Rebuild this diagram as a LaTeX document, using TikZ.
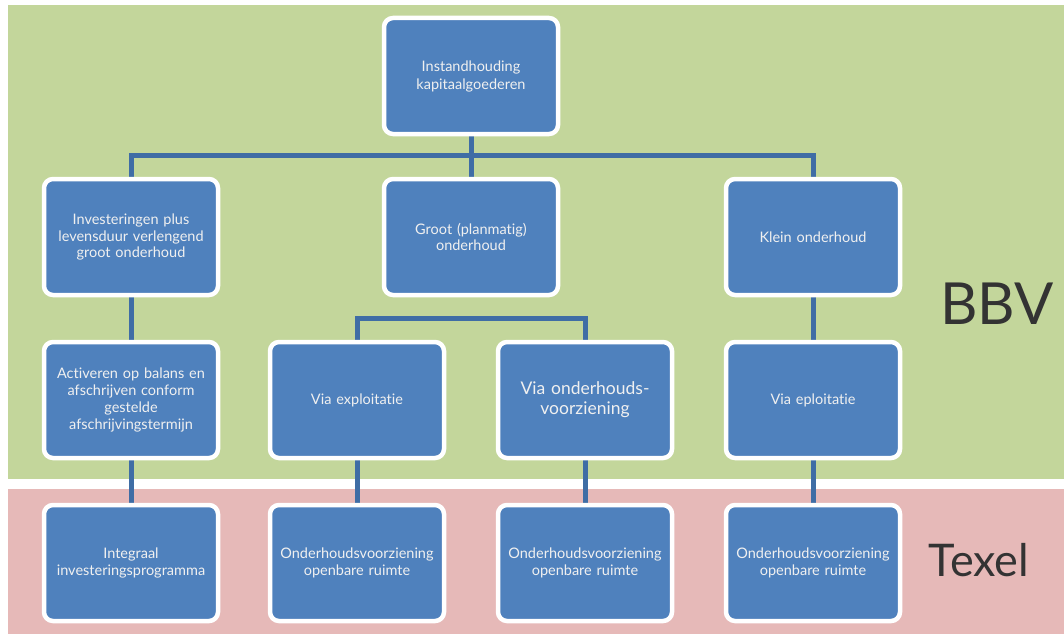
\documentclass[tikz,border=0pt]{standalone}
\usepackage{fontspec}
\setmainfont{Lato}[Ligatures={NoCommon,NoContextual}]
\newfontfamily\bigfont{Lato}
\usetikzlibrary{positioning}
\definecolor{bbvgreen}{HTML}{C3D69B}
\definecolor{texelpink}{HTML}{E6B9B8}
\definecolor{boxblue}{HTML}{4F81BD}
\definecolor{lineblue}{HTML}{3F6DA5}
\definecolor{labelgray}{HTML}{333333}
\pgfdeclarelayer{bg}
\pgfdeclarelayer{edges}
\pgfsetlayers{bg,edges,main}
\begin{document}
\begin{tikzpicture}[x=1pt, y=-1pt,
		box/.style={rectangle, rounded corners=9pt, fill=boxblue, draw=white, line width=4.5pt,
			minimum width=174pt, minimum height=116pt, text width=166pt, align=center,
			text=white!94!black, font=\fontsize{14.5}{16.7}\selectfont},
		conn/.style={draw=lineblue, line width=5pt},
		side/.style={text=labelgray, font=\bigfont}]
	\useasboundingbox (0,0) rectangle (1064,634);
	\begin{pgfonlayer}{bg}
		\fill[bbvgreen] (8,5) rectangle (1064,479);
		\fill[texelpink] (8,489) rectangle (1064,634);
	\end{pgfonlayer}
	% top
	\node[box, font=\fontsize{14.5}{18}\selectfont] (top) at (471,76) {Instandhouding\\kapitaalgoederen};
	% second row
	\node[box] (inv) at (131,237) {Investeringen plus\\levensduur verlengend\\groot onderhoud};
	\node[box] (groot) at (471,237) {Groot (planmatig)\\onderhoud};
	\node[box] (klein) at (813,237) {Klein onderhoud};
	% third row
	\node[box] (act) at (131,400) {Activeren op balans en\\afschrijven conform\\gestelde\\afschrijvingstermijn};
	\node[box] (expl) at (357,400) {Via exploitatie};
	\node[box, font=\fontsize{17.5}{20}\selectfont] (voorz) at (585,400) {Via onderhouds-\\voorziening};
	\node[box] (eplo) at (813,400) {Via eploitatie};
	% texel row
	\node[box] (ip) at (131,563) {Integraal\\investeringsprogramma};
	\node[box] (or1) at (357,563) {Onderhoudsvoorziening\\openbare ruimte};
	\node[box] (or2) at (585,563) {Onderhoudsvoorziening\\openbare ruimte};
	\node[box] (or3) at (813,563) {Onderhoudsvoorziening\\openbare ruimte};
	% side labels
	\node[side, font=\bigfont\fontsize{58}{60}\selectfont] (bbv) at (997,304) {BBV};
	\node[side, font=\bigfont\fontsize{45}{48}\selectfont] (texel) at (979,560) {Texel};
	\begin{pgfonlayer}{edges}
		\draw[conn] (top.center) -- (groot.center);
		\draw[conn] (top.center) ++(0,79) -| (inv.center);
		\draw[conn] (top.center) ++(0,79) -| (klein.center);
		\draw[conn] (groot.center) ++(0,81) -| (expl.center);
		\draw[conn] (groot.center) ++(0,81) -| (voorz.center);
		\draw[conn] (inv.center) -- (act.center) -- (ip.center);
		\draw[conn] (klein.center) -- (eplo.center) -- (or3.center);
		\draw[conn] (expl.center) -- (or1.center);
		\draw[conn] (voorz.center) -- (or2.center);
	\end{pgfonlayer}
\end{tikzpicture}
\end{document}
